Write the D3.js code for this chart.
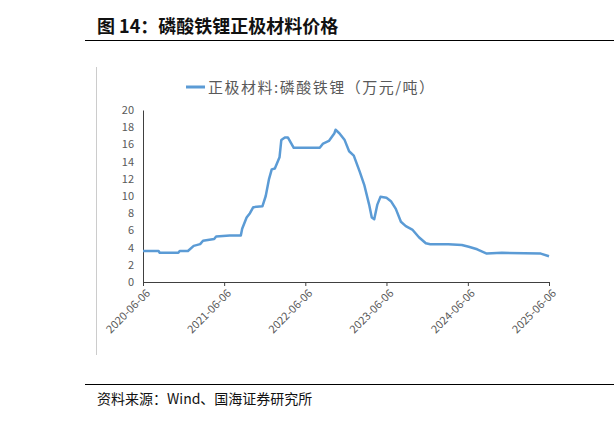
<!DOCTYPE html><html><head><meta charset="utf-8"><script src="https://cdn.jsdelivr.net/npm/d3@7"></script>
<style>body{margin:0;background:#fff}text{font-family:"Noto Sans CJK SC",sans-serif}</style></head><body><svg id="c" width="614" height="421"></svg>
<script>
const dates=["2020-06-06","2020-08-15","2020-08-20","2020-11-12","2020-11-18","2020-12-25","2021-01-20","2021-02-18","2021-03-03","2021-04-22","2021-05-01","2021-07-01","2021-08-20","2021-08-26","2021-09-15","2021-09-30","2021-10-15","2021-11-25","2021-12-10","2021-12-25","2022-01-06","2022-01-20","2022-02-10","2022-02-18","2022-03-06","2022-03-20","2022-04-15","2022-05-10","2022-08-10","2022-08-25","2022-09-20","2022-10-15","2022-10-20","2022-11-06","2022-11-30","2022-12-20","2023-01-10","2023-02-06","2023-02-26","2023-03-20","2023-04-01","2023-04-12","2023-04-26","2023-05-10","2023-06-06","2023-06-26","2023-07-18","2023-08-10","2023-09-01","2023-09-30","2023-10-30","2023-11-30","2023-12-20","2024-03-10","2024-05-10","2024-06-10","2024-07-18","2024-08-30","2024-11-06","2025-04-30","2025-06-06"];
const values=[3.6,3.6,3.4,3.4,3.6,3.6,4.2,4.4,4.8,5.0,5.3,5.4,5.4,6.2,7.5,8.0,8.7,8.8,10,12,13.1,13.2,14.5,16.5,16.8,16.8,15.6,15.6,15.6,16.1,16.4,17.3,17.7,17.3,16.5,15.2,14.7,12.8,11.3,9,7.5,7.3,9,9.9,9.8,9.4,8.5,7.0,6.5,6.1,5.2,4.5,4.4,4.4,4.3,4.1,3.8,3.3,3.4,3.3,3.0];
const yTicks=[0,2,4,6,8,10,12,14,16,18,20];
const xTicks=["2020-06-06","2021-06-06","2022-06-06","2023-06-06","2024-06-06","2025-06-06"];
const title="图 14：磷酸铁锂正极材料价格", legend="正极材料:磷酸铁锂（万元/吨）", source="资料来源：Wind、国海证券研究所";
const p=d3.timeParse("%Y-%m-%d");
const svg=d3.select("#c");
const x=d3.scaleTime().domain([p(xTicks[0]),p(xTicks[5])]).range([143,549]);
const y=d3.scaleLinear().domain([0,20]).range([282,110]);
svg.append("text").attr("x",97).attr("y",33).attr("font-size",18).attr("font-weight","bold").attr("fill","#111").text(title);
svg.append("line").attr("x1",85).attr("x2",614).attr("y1",40.5).attr("y2",40.5).attr("stroke","#000").attr("stroke-width",1.2);
svg.append("line").attr("x1",96.5).attr("x2",96.5).attr("y1",67).attr("y2",355).attr("stroke","#ccc");
svg.append("line").attr("x1",186).attr("x2",205).attr("y1",87).attr("y2",87).attr("stroke","#5b9bd5").attr("stroke-width",3);
svg.append("text").attr("x",208).attr("y",93).attr("font-size",15).attr("letter-spacing",1.5).attr("fill","#595959").text(legend);
const ya=svg.append("g").attr("transform","translate(143,0)").call(d3.axisLeft(y).tickValues(yTicks).tickSize(0).tickPadding(9));
ya.select(".domain").attr("stroke","#404040");
ya.selectAll("text").attr("font-size",11).attr("fill","#595959").attr("font-family","Liberation Sans, sans-serif");
const xa=svg.append("g").attr("transform","translate(0,282)").call(d3.axisBottom(x).tickValues(xTicks.map(p)).tickSize(4).tickFormat(d3.timeFormat("%Y-%m-%d")));
xa.select(".domain").attr("stroke","#404040");xa.selectAll("line").attr("stroke","#404040");
xa.selectAll("text").attr("font-size",11).attr("fill","#595959").attr("font-family","Liberation Sans, sans-serif").attr("text-anchor","end").attr("transform","rotate(-45)").attr("dx","-0.3em").attr("dy","0.6em");
svg.append("path").datum(dates.map((d,i)=>[p(d),values[i]])).attr("fill","none").attr("stroke","#5b9bd5").attr("stroke-width",2.5).attr("stroke-linejoin","round")
 .attr("d",d3.line().x(d=>x(d[0])).y(d=>y(d[1])));
svg.append("line").attr("x1",85).attr("x2",614).attr("y1",384.5).attr("y2",384.5).attr("stroke","#000");
svg.append("text").attr("x",97).attr("y",404).attr("font-size",14).attr("fill","#111").text(source);
</script></body></html>
